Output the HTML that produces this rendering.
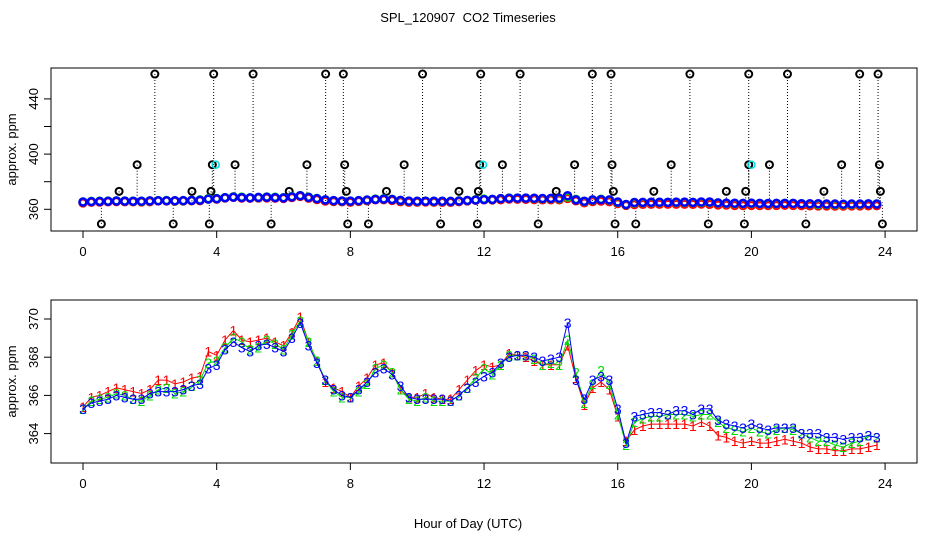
<!DOCTYPE html>
<html><head><meta charset="utf-8"><style>
html,body{margin:0;padding:0;background:#fff;}
svg text{font-family:"Liberation Sans",sans-serif;}
</style></head><body>
<svg id="chart" width="936" height="540" xmlns="http://www.w3.org/2000/svg">
<rect width="936" height="540" fill="#fff"/>
<text x="468" y="22" text-anchor="middle" font-size="13" style="white-space:pre">SPL_120907  CO2 Timeseries</text>
<text x="468" y="528" text-anchor="middle" font-size="13">Hour of Day (UTC)</text>
<g id="top"></g>
<g id="bot"></g>
</svg>
<script>
const hours = [];
const xTicks = [0,4,8,12,16,20,24];
const topYTicks = [360,380,400,420,440];
const topYLabels = [360,400,440];
const botYTicks = [364,366,368,370];
const series3 = [365.3,365.6,365.7,365.8,366.0,365.9,365.8,365.8,366.1,366.2,366.2,366.2,366.3,366.5,366.6,367.4,
367.6,368.4,368.8,368.5,368.3,368.6,368.7,368.5,368.3,369.0,369.8,368.6,367.7,366.8,366.3,366.0,
365.9,366.3,366.7,367.2,367.4,367.1,366.5,365.9,365.8,365.8,365.8,365.8,365.7,366.0,366.4,366.7,
367.0,367.2,367.7,368.0,368.1,368.1,368.0,367.8,367.9,368.0,369.8,366.8,365.8,366.8,367.0,366.8,
365.3,363.5,364.9,365.0,365.1,365.1,365.0,365.2,365.2,365.0,365.3,365.3,364.7,364.5,364.4,364.3,
364.5,364.3,364.2,364.3,364.3,364.3,364.0,364.0,364.0,363.8,363.8,363.7,363.8,363.8,363.9,363.8];
const series2 = [365.3,365.7,365.8,365.9,366.1,366.0,365.8,365.7,366.0,366.3,366.4,366.1,366.2,366.5,366.8,367.7,
367.8,368.5,369.0,368.8,368.4,368.5,368.9,368.7,368.4,369.2,369.9,368.8,367.8,366.8,366.2,365.9,
365.9,366.2,366.6,367.4,367.6,367.2,366.3,365.8,365.7,365.9,365.7,365.7,365.7,366.0,366.4,366.9,
367.4,367.1,367.6,368.1,368.1,368.1,367.9,367.6,367.7,367.6,368.9,367.2,365.6,366.6,367.3,366.6,
365.0,363.4,364.6,364.8,364.9,364.9,365.0,365.0,365.0,364.9,365.0,365.0,364.6,364.3,364.2,364.1,
364.3,364.1,364.0,364.2,364.3,364.2,364.0,363.8,363.6,363.6,363.4,363.3,363.5,363.6,363.9,363.8];
const series1 = [365.4,365.9,366.0,366.2,366.4,366.3,366.2,366.1,366.3,366.8,366.8,366.6,366.7,366.9,367.0,368.3,
368.1,368.9,369.4,368.9,368.8,368.9,369.0,368.8,368.6,369.3,370.1,368.8,367.8,366.7,366.4,366.2,
365.9,366.5,366.9,367.6,367.7,367.2,366.3,365.9,365.9,366.1,365.9,365.8,365.8,366.3,366.8,367.3,
367.6,367.5,367.6,368.2,368.1,368.0,367.8,367.6,367.6,367.6,368.6,366.9,365.5,366.4,366.7,366.3,
364.9,363.6,364.2,364.4,364.5,364.5,364.5,364.5,364.5,364.4,364.6,364.4,363.9,363.8,363.6,363.5,
363.6,363.5,363.5,363.6,363.7,363.6,363.5,363.3,363.2,363.2,363.1,363.1,363.2,363.2,363.3,363.4];
for (let i = 0; i < series3.length; i++) hours.push(i * 0.25);
const outHighHours = [2.15,3.91,5.09,7.26,7.79,10.16,11.9,13.08,15.24,15.8,18.16,19.92,21.08,23.24,23.79];
const outMidHours = [1.62,3.87,4.55,6.70,7.83,9.61,11.87,12.55,14.71,15.83,17.6,19.92,20.54,22.7,23.83];
const outLowMidHours = [1.08,3.26,3.83,6.17,7.88,9.08,11.25,11.83,14.16,15.87,17.08,19.25,19.83,22.17,23.86];
const outLowHours = [0.55,2.7,3.78,5.63,7.92,8.54,10.7,11.8,13.62,15.92,16.54,18.71,19.79,21.63,23.92];
const outValues = [458, 392.3, 373, 349.4];
const cyanHours = [3.97,11.97,20.0];
const cyanValue = 392.3;

const NS = "http://www.w3.org/2000/svg";
function mk(parent, tag, attrs) {
  const e = document.createElementNS(NS, tag);
  for (const k in attrs) e.setAttribute(k, attrs[k]);
  parent.appendChild(e);
  return e;
}
const xPx = h => 83 + h * 33.42;
const yTop = v => 209.3 - (v - 360) * 1.38;
const yBot = v => 319 - (v - 370) * 19.1;

function axes(g, top, bot, yFn, ticks, labels, prefix) {
  const box = mk(g, 'rect', {x:51, y:top, width:866, height:bot-top, fill:'none', stroke:'#000', 'stroke-width':1});
  
  
  xTicks.forEach(t => {
    const x = xPx(t);
    const l = mk(g, 'line', {x1:x, x2:x, y1:bot, y2:bot+7, stroke:'#000'});
    
    
    const tx = mk(g, 'text', {x:x, y:bot+25, 'text-anchor':'middle', 'font-size':13});
    tx.textContent = t;
    
    
  });
  ticks.forEach(t => {
    const y = yFn(t);
    const l = mk(g, 'line', {x1:44, x2:51, y1:y, y2:y, stroke:'#000'});
    
    
  });
  labels.forEach(t => {
    const y = yFn(t);
    const tx = mk(g, 'text', {x:0, y:0, 'text-anchor':'middle', 'font-size':13, transform:`translate(38,${y}) rotate(-90)`});
    tx.textContent = t;
    
    
  });
  const yt = mk(g, 'text', {x:0, y:0, 'text-anchor':'middle', 'font-size':13, transform:`translate(16,${(top+bot)/2}) rotate(-90)`});
  yt.textContent = 'approx. ppm';
  
  
}

// TOP PANEL
const gt = document.getElementById('top');
axes(gt, 68, 231, yTop, topYTicks, topYLabels, 'top');
const outGroups = [outHighHours, outMidHours, outLowMidHours, outLowHours];
outGroups.forEach((arr, gi) => {
  arr.forEach(h => {
    const x = xPx(h), y = yTop(outValues[gi]);
    const l = mk(gt, 'line', {x1:x, x2:x, y1:y, y2:yTop(365), stroke:'#000', 'stroke-width':1, 'stroke-dasharray':'1,2'});
    
    
    const c = mk(gt, 'circle', {cx:x, cy:y, r:3.5, fill:'none', stroke:'#000', 'stroke-width':2});
    
    
  });
});
[[series1,'#ff0000'],[series2,'#00dd00'],[series3,'#0000ff']].forEach(([s,col], si) => {
  s.forEach((v,i) => {
    const c = mk(gt, 'circle', {cx:xPx(hours[i]), cy:yTop(v)+(si===0?1:0), r:3.5, fill:'none', stroke:col, 'stroke-width':2.5});
    
    
  });
});
cyanHours.forEach(h => {
  const c = mk(gt, 'circle', {cx:xPx(h), cy:yTop(cyanValue), r:3.5, fill:'none', stroke:'#00dddd', 'stroke-width':1.5});
  
  
});

// BOTTOM PANEL
const gb = document.getElementById('bot');
axes(gb, 300, 463, yBot, botYTicks, botYTicks, 'bottom');
[[series1,'#ff0000','1'],[series2,'#00dd00','2'],[series3,'#0000ff','3']].forEach(([s,col,ch]) => {
  const pts = s.map((v,i) => `${xPx(hours[i]).toFixed(1)},${yBot(v).toFixed(1)}`).join(' ');
  const pl = mk(gb, 'polyline', {points:pts, fill:'none', stroke:col, 'stroke-width':1});
  
  
  s.forEach((v,i) => {
    const t = mk(gb, 'text', {x:xPx(hours[i]), y:yBot(v)+5, 'text-anchor':'middle', 'font-size':14, fill:col});
    t.textContent = ch;
    
    
  });
});
</script>
</body></html>
